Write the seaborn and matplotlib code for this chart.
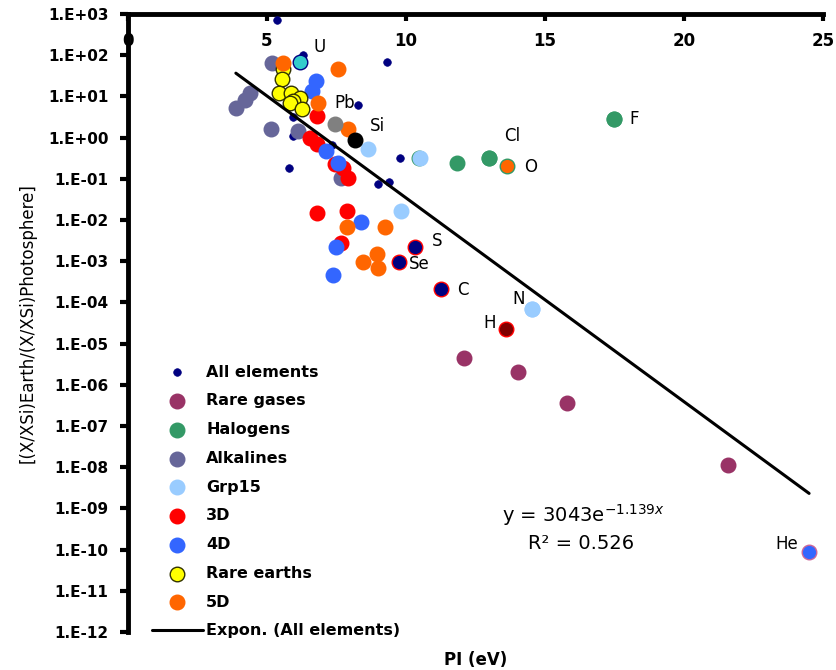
import numpy as np
import pandas as pd
import matplotlib
matplotlib.use("Agg")
import matplotlib.pyplot as plt
import seaborn as sns

# ---------------- data (PI in eV, log10 of ratio) ----------------
all_x = [5.36, 6.29, 9.32, 8.27, 5.94, 5.94, 7.34, 5.79, 9.78, 8.99, 9.39]
all_logy = [2.86, 2.01, 1.84, 0.78, 0.51, 0.05, -0.19, -0.73, -0.49, -1.12, -1.07]

rare_x = [12.09, 14.03, 15.79, 21.58]
rare_logy = [-5.36, -5.68, -6.43, -7.94]

halo_x = [17.48, 12.99, 11.83, 10.47]
halo_logy = [0.44, -0.49, -0.61, -0.49]

alk_x = [3.88, 4.21, 4.39, 5.18, 5.14, 6.12, 7.66]
alk_logy = [0.73, 0.92, 1.09, 1.80, 0.22, 0.15, -0.97]

grp15_x = [8.63, 10.50, 9.82, 14.53]
grp15_logy = [-0.27, -0.49, -1.77, -4.17]

d3_x = [6.80, 6.55, 6.80, 7.45, 7.73, 7.91, 6.80, 7.88, 7.66]
d3_logy = [0.53, 0.00, -0.15, -0.63, -0.75, -0.97, -1.82, -1.77, -2.55]

d4_x = [6.76, 6.62, 7.12, 7.55, 8.38, 7.48, 7.37]
d4_logy = [1.38, 1.14, -0.32, -0.61, -2.04, -2.65, -3.33]

re_x = [5.58, 5.54, 5.43, 5.86, 6.19, 5.94, 5.83, 6.26]
re_logy = [1.67, 1.43, 1.09, 1.09, 0.97, 0.90, 0.83, 0.70]

d5_x = [5.58, 7.55, 6.83, 7.91, 7.88, 9.24, 8.96, 8.45, 8.99]
d5_logy = [1.80, 1.67, 0.85, 0.22, -2.18, -2.18, -2.82, -3.03, -3.16]

# labelled individual elements
el_names = ["U", "Pb", "Si", "Cl", "O", "F", "S", "Se", "C", "N", "H", "He"]
el_x = [6.19, 7.45, 8.17, 12.99, 13.63, 17.48, 10.32, 9.75, 11.26, 14.53, 13.60, 24.50]
el_logy = [1.84, 0.32, -0.05, -0.49, -0.70, 0.44, -2.65, -3.01, -3.67, -4.17, -4.64, -10.05]
el_fill = ["#33CCCC", "#808080", "#000000", "#339966", "#FF6600", "#339966",
           "#000080", "#000080", "#000080", "#99CCFF", "#800000", "#3366FF"]
el_edge = ["#000080", "#808080", "#000000", "#339966", "#339966", "#339966",
           "#FF0000", "#FF0000", "#FF0000", "#99CCFF", "#FF0000", "#CC6699"]
# label offsets in pixels (right, down)
el_off = [(20, -15), (10, -21), (22, -14), (23, -22), (24, 1), (20, 0),
          (22, -6), (20, 2), (22, 1), (-13, -10), (-16, -6), (-22, -8)]

# trendline parameters shown on chart
fit_a = 3043.0
fit_b = -1.139
fit_r2 = 0.526

# ---------------- figure ----------------
sns.set_style("white")
plt.rcParams["font.family"] = ["DejaVu Sans"]
plt.rcParams["text.color"] = "black"
plt.rcParams["axes.labelcolor"] = "black"
plt.rcParams["xtick.color"] = "black"
plt.rcParams["ytick.color"] = "black"

fig = plt.figure(figsize=(8.37, 6.70), dpi=100)
ax = fig.add_axes([128 / 837, 1 - 632 / 670, (823 - 128) / 837, (632 - 14) / 670])

series = [
    ("Rare gases", rare_x, rare_logy, "#993366", "#993366"),
    ("Halogens", halo_x, halo_logy, "#339966", "#339966"),
    ("Alkalines", alk_x, alk_logy, "#666699", "#666699"),
    ("Grp15", grp15_x, grp15_logy, "#99CCFF", "#99CCFF"),
    ("3D", d3_x, d3_logy, "#FF0000", "#FF0000"),
    ("4D", d4_x, d4_logy, "#3366FF", "#3366FF"),
    ("Rare earths", re_x, re_logy, "#FFFF00", "#333300"),
    ("5D", d5_x, d5_logy, "#FF6600", "#FF6600"),
]

# All elements (small navy dots)
df_all = pd.DataFrame({"x": all_x, "y": 10 ** np.array(all_logy)})
sns.scatterplot(data=df_all, x="x", y="y", ax=ax, color="#000080", s=30,
                edgecolor="#000080", linewidth=0.5, label="All elements", zorder=3)

for name, xs, ly, fc, ec in series:
    d = pd.DataFrame({"x": xs, "y": 10 ** np.array(ly)})
    sns.scatterplot(data=d, x="x", y="y", ax=ax, color=fc, s=110,
                    edgecolor=ec, linewidth=1.0, label=name, zorder=4)

# labelled elements
df_el = pd.DataFrame({"x": el_x, "y": 10 ** np.array(el_logy), "name": el_names})
for i, r in df_el.iterrows():
    ax.scatter([r.x], [r.y], s=110, color=el_fill[i], edgecolor=el_edge[i],
               linewidth=1.0, zorder=5)
    dx, dy = el_off[i]
    ax.annotate(r["name"], (r.x, r.y), xytext=(dx * 0.72, -dy * 0.72),
                textcoords="offset points",
                ha="center", va="center", fontsize=12, color="black")

# exponential trendline
allx = np.concatenate([all_x, rare_x, halo_x, alk_x, grp15_x, d3_x, d4_x, re_x, d5_x, el_x])
tx = np.linspace(allx.min(), allx.max(), 100)
df_fit = pd.DataFrame({"x": tx, "y": fit_a * np.exp(fit_b * tx)})
sns.lineplot(data=df_fit, x="x", y="y", ax=ax, color="black", linewidth=2.2,
             label="Expon. (All elements)", zorder=6)

ax.text(0.655, 0.189, r"y = 3043e$^{-1.139x}$", transform=ax.transAxes,
        ha="center", va="center", fontsize=14, color="black")
ax.text(0.652, 0.144, f"R² = {fit_r2:.3f}", transform=ax.transAxes,
        ha="center", va="center", fontsize=14, color="black")

# axes
ax.set_yscale("log")
ax.set_xlim(0, 25)
ax.set_ylim(1e-12, 1e3)
yt = [10.0 ** e for e in range(-12, 4)]
ax.set_yticks(yt)
ax.set_yticklabels([f"1.E{e:+03d}" for e in range(-12, 4)], fontweight="bold", fontsize=11)
ax.yaxis.set_minor_locator(matplotlib.ticker.NullLocator())
ax.set_xticks([0, 5, 10, 15, 20, 25])
ax.set_xticklabels(["0", "5", "10", "15", "20", "25"], fontweight="bold", fontsize=12)
ax.tick_params(axis="x", top=True, bottom=False, labeltop=True, labelbottom=False,
               direction="in", length=5, width=3, pad=-26)
ax.tick_params(axis="y", left=True, direction="out", length=6, width=3, pad=8)
for s in ["right", "bottom"]:
    ax.spines[s].set_visible(False)
for s in ["left", "top"]:
    ax.spines[s].set_linewidth(3.5)
    ax.spines[s].set_color("black")
ax.grid(False)

ax.xaxis.set_label_position("bottom")
ax.set_xlabel("PI (eV)", fontsize=12, fontweight="bold", labelpad=14)
ax.set_ylabel("[(X/XSi)Earth/(X/XSi)Photosphere]", fontsize=12, labelpad=8)

leg = ax.legend(loc="upper left", bbox_to_anchor=(0.025, 0.443), frameon=False,
                fontsize=11.5, labelspacing=0.86, handlelength=3.2,
                handletextpad=0.2, borderaxespad=0)
for t in leg.get_texts():
    t.set_fontweight("bold")

fig.savefig("out.png", dpi=100)
